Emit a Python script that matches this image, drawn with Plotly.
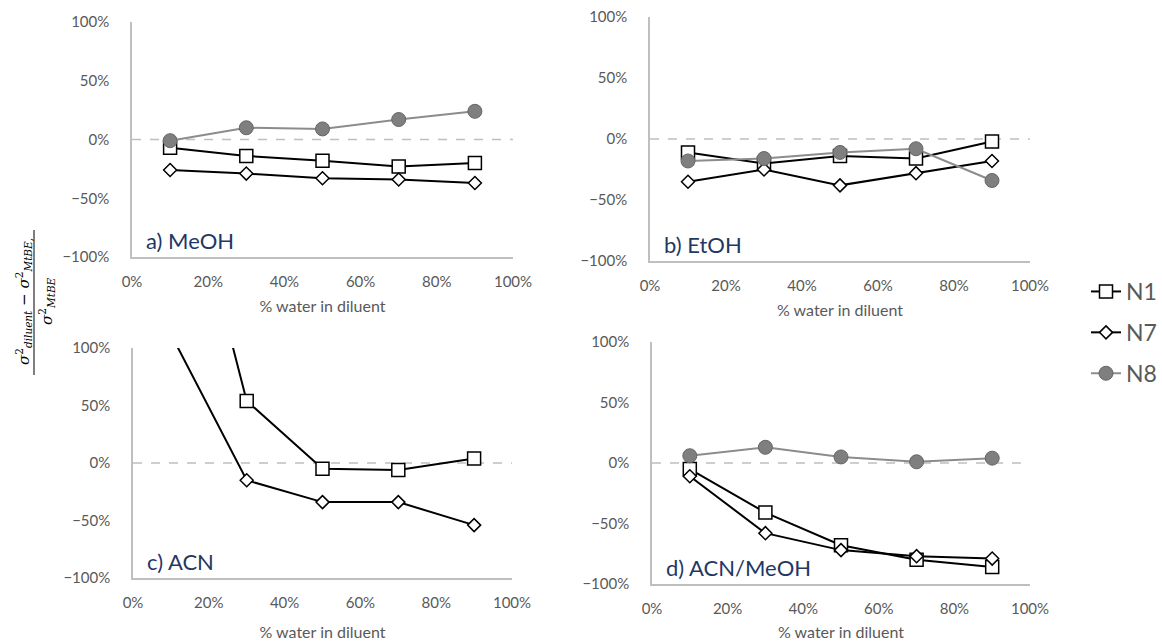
import plotly.graph_objects as go

# % water in diluent (fraction)
water = [0.10, 0.30, 0.50, 0.70, 0.90]

# Relative change of variance vs. MtBE (%), per diluent and column
meoh_n1 = [-7, -14, -18, -23, -20]
meoh_n7 = [-26, -29, -33, -34, -37]
meoh_n8 = [-1, 10, 9, 17, 24]

etoh_n1 = [-11, -20, -14, -16, -2]
etoh_n7 = [-35, -25, -38, -28, -18]
etoh_n8 = [-18, -16, -11, -8, -34]

acn_n1 = [310, 54, -5, -6, 4]
acn_n7 = [112, -15, -34, -34, -54]

acnmeoh_n1 = [-5, -41, -68, -80, -86]
acnmeoh_n7 = [-11, -58, -72, -77, -79]
acnmeoh_n8 = [6, 13, 5, 1, 4]

panel_labels = ["a) MeOH", "b) EtOH", "c) ACN", "d) ACN/MeOH"]
x_title = "% water in diluent"

W, H = 1162, 642
FONT = "Lato, Open Sans, sans-serif"
GREY_TXT = "#595959"
AXIS_CLR = "#bfbfbf"
LABEL_BLUE = "#1f3864"

styles = {
    "N1": dict(mode="lines+markers", line=dict(color="black", width=2),
               marker=dict(symbol="square", size=13, color="white",
                           line=dict(color="black", width=1.5))),
    "N7": dict(mode="lines+markers", line=dict(color="black", width=2),
               marker=dict(symbol="diamond", size=10, color="white",
                           line=dict(color="black", width=1.5))),
    "N8": dict(mode="lines+markers", line=dict(color="#8c8c8c", width=2),
               marker=dict(symbol="circle", size=14, color="#7f7f7f",
                           line=dict(color="#666666", width=1))),
}

panels = [
    {"N1": meoh_n1, "N7": meoh_n7, "N8": meoh_n8},
    {"N1": etoh_n1, "N7": etoh_n7, "N8": etoh_n8},
    {"N1": acn_n1, "N7": acn_n7},
    {"N1": acnmeoh_n1, "N7": acnmeoh_n7, "N8": acnmeoh_n8},
]

# plot-area boxes in pixels: (left, right, top, bottom, x-title standoff)
boxes = [(132, 513, 22, 257, 12), (650, 1030, 17, 261, 12),
         (133, 512, 348, 578, 17), (652, 1030, 342, 584, 11)]


def px_x(v):
    return v / W


def px_y(v):
    return 1 - v / H


fig = go.Figure()
layout = dict(
    width=W, height=H, margin=dict(l=0, r=0, t=0, b=0, autoexpand=False),
    paper_bgcolor="white", plot_bgcolor="white",
    font=dict(family=FONT, color=GREY_TXT),
    showlegend=True,
    legend=dict(x=1086 / W, y=px_y(270), xanchor="left", yanchor="top",
                font=dict(size=23, color=GREY_TXT, family=FONT),
                tracegroupgap=8, itemwidth=30, bgcolor="rgba(0,0,0,0)"),
)
shapes = []
annotations = []

for i, (series, box) in enumerate(zip(panels, boxes)):
    k = "" if i == 0 else str(i + 1)
    xa, ya = "x" + k, "y" + k
    l, r, t, b, standoff = box
    for name, vals in series.items():
        fig.add_trace(go.Scatter(
            x=water, y=[v / 100 for v in vals], name=name,
            xaxis=xa, yaxis=ya, legendgroup=name,
            showlegend=(i == 0), **styles[name]))
    layout["xaxis" + k] = dict(
        domain=[px_x(l), px_x(r)], anchor=ya, range=[0, 1],
        tickvals=[0, 0.2, 0.4, 0.6, 0.8, 1.0], tickformat=".0%",
        showgrid=False, zeroline=False, showline=True, linecolor=AXIS_CLR,
        linewidth=1.5, ticks="outside", ticklen=10, automargin=False,
        tickcolor="rgba(0,0,0,0)", tickfont=dict(size=15, color=GREY_TXT),
        title=dict(text=x_title, font=dict(size=16, color=GREY_TXT),
                   standoff=standoff))
    layout["yaxis" + k] = dict(
        domain=[px_y(b), px_y(t)], anchor=xa, range=[-1, 1],
        tickvals=[-1, -0.5, 0, 0.5, 1], tickformat=".0%",
        showgrid=False, zeroline=False, showline=True, linecolor=AXIS_CLR,
        linewidth=1.5, ticks="outside", ticklen=18, automargin=False,
        tickcolor="rgba(0,0,0,0)", tickfont=dict(size=15, color=GREY_TXT))
    # dashed reference line at zero
    shapes.append(dict(type="line", xref=xa + " domain", yref=ya,
                       x0=0, x1=1, y0=0, y1=0, layer="below",
                       line=dict(color=AXIS_CLR, width=1.5, dash="dash")))
    # panel label
    annotations.append(dict(text=panel_labels[i], xref="paper", yref="paper",
                            x=px_x(l + 12), y=px_y(b - 17),
                            xanchor="left", yanchor="middle", showarrow=False,
                            font=dict(size=22, color=LABEL_BLUE, family=FONT)))

# y-axis title as a rotated fraction
SERIF = "DejaVu Serif, Liberation Serif, serif"
annotations.append(dict(
    text="<i>σ</i><sup>2</sup><sub><i>diluent</i></sub> − "
         "<i>σ</i><sup>2</sup><sub><i>MtBE,</i></sub>",
    xref="paper", yref="paper", x=px_x(24), y=px_y(302),
    textangle=-90, showarrow=False, xanchor="center", yanchor="middle",
    font=dict(size=15, color="black", family=SERIF)))
annotations.append(dict(
    text="<i>σ</i><sup>2</sup><sub><i>MtBE</i></sub>",
    xref="paper", yref="paper", x=px_x(46), y=px_y(301),
    textangle=-90, showarrow=False, xanchor="center", yanchor="middle",
    font=dict(size=15, color="black", family=SERIF)))
shapes.append(dict(type="line", xref="paper", yref="paper",
                   x0=px_x(34), x1=px_x(34), y0=px_y(230), y1=px_y(375),
                   line=dict(color="black", width=1)))

layout["shapes"] = shapes
layout["annotations"] = annotations
fig.update_layout(**layout)

fig.write_html("out.html")
